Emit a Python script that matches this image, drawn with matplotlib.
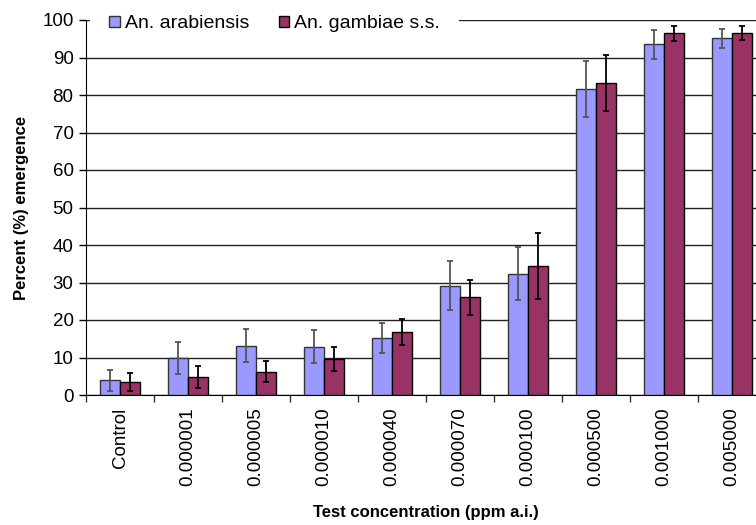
import numpy as np
import matplotlib
matplotlib.use('Agg')
import matplotlib.pyplot as plt

plt.rcParams['font.family'] = ['Liberation Sans', 'DejaVu Sans']

# data
concentrations = ['Control', '0.000001', '0.000005', '0.000010', '0.000040',
                  '0.000070', '0.000100', '0.000500', '0.001000', '0.005000']
arabiensis = [3.9, 9.9, 13.2, 12.9, 15.2, 29.2, 32.4, 81.6, 93.5, 95.1]
arabiensis_err = [2.9, 4.3, 4.4, 4.4, 3.9, 6.6, 7.0, 7.4, 3.8, 2.6]
gambiae = [3.5, 4.9, 6.2, 9.6, 16.8, 26.1, 34.4, 83.2, 96.5, 96.5]
gambiae_err = [2.3, 2.9, 2.8, 3.3, 3.5, 4.7, 8.7, 7.6, 2.0, 1.8]

fig = plt.figure(figsize=(7.56, 5.25), dpi=100)
# axes runs a little past the right edge, as in the reference
ax = fig.add_axes([86 / 756, 130 / 525, 680 / 756, 375 / 525])

x = np.arange(len(concentrations))
w = 0.287

ax.bar(x - w / 2, arabiensis, w, color='#9999FF', edgecolor='#333333', linewidth=1,
       label='An. arabiensis', zorder=3)
ax.bar(x + w / 2, gambiae, w, color='#993366', edgecolor='black', linewidth=1,
       label='An. gambiae s.s.', zorder=3)
ax.errorbar(x - w / 2, arabiensis, yerr=arabiensis_err, fmt='none', ecolor='#555555',
            elinewidth=1.3, capsize=2.5, capthick=1.3, zorder=4)
ax.errorbar(x + w / 2, gambiae, yerr=gambiae_err, fmt='none', ecolor='black',
            elinewidth=1.3, capsize=2.5, capthick=1.3, zorder=4)

ax.set_xlim(-0.5, len(concentrations) - 0.5)
ax.set_ylim(0, 100)
ax.set_yticks(np.arange(0, 101, 10))
ax.yaxis.grid(True, color='#222222', linewidth=1)
ax.set_axisbelow(True)

ax.set_xticks(x)
ax.set_xticklabels(concentrations, rotation=90, fontsize=13.5)
ax.set_xticks(np.arange(-0.5, len(concentrations)), minor=True)
ax.tick_params(axis='x', which='major', length=0, pad=9)
ax.tick_params(axis='x', which='minor', length=5, width=1, color='#333333')
ax.tick_params(axis='y', length=5, width=1, labelsize=13.5, pad=4)

for side in ['top', 'right']:
    ax.spines[side].set_visible(False)
ax.spines['left'].set_color('black')
ax.spines['bottom'].set_color('black')

ax.set_ylabel('Percent (%) emergence', fontsize=12, fontweight='bold')
ax.yaxis.set_label_coords(-57 / 680, 0.5)
ax.set_xlabel('Test concentration (ppm a.i.)', fontsize=12, fontweight='bold')
ax.xaxis.set_label_coords(0.5, -110 / 375)

leg = ax.legend(loc='center left', bbox_to_anchor=(4 / 680, 0.99), ncol=2, fontsize=14,
                frameon=True, facecolor='white', edgecolor='none', framealpha=1,
                fancybox=False, handlelength=0.55, handleheight=0.55, handletextpad=0.25,
                columnspacing=1.5, borderpad=1.0, borderaxespad=0)
for h in leg.legend_handles:
    h.set_linewidth(1)

fig.savefig('out.png', dpi=100)
